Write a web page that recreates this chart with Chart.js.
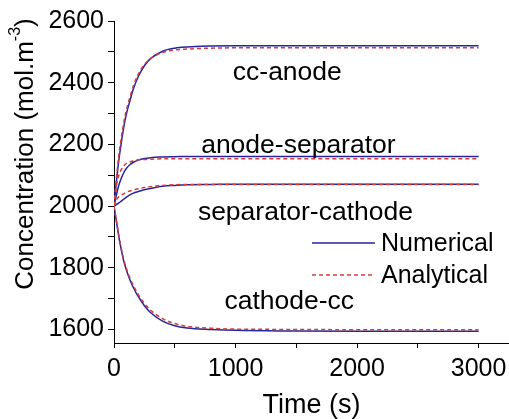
<!DOCTYPE html>
<html>
<head>
<meta charset="utf-8">
<script src="https://cdn.jsdelivr.net/npm/chart.js@4.4.1/dist/chart.umd.min.js"></script>
<style>
  html, body { margin: 0; padding: 0; background: #fff; }
  #myChart { display: block; }
</style>
</head>
<body>
<canvas id="myChart" width="509" height="419"></canvas>
<script>
// time samples (s)
const timeValues = [0, 20, 40, 60, 80, 100, 130, 160, 200, 250, 300, 400, 500, 600, 800, 1000, 1500, 2000, 2500, 3000];

// numerical solution at each interface (mol/m3)
const numCcAnode = [2000, 2080, 2150, 2205, 2255, 2295, 2340, 2380, 2420, 2455, 2478, 2502, 2512, 2516, 2519, 2520, 2520, 2520, 2520, 2520];
const numAnodeSep = [2000, 2036, 2068, 2090, 2108, 2121, 2134, 2142, 2149, 2154, 2157, 2159, 2160, 2161, 2161, 2161, 2161, 2161, 2161, 2161];
const numSepCathode = [2000, 2005, 2010, 2016, 2022, 2028, 2036, 2042, 2047, 2053, 2057, 2064, 2067, 2069, 2070, 2071, 2071, 2071, 2071, 2071];
const numCathodeCc = [2000, 1950, 1900, 1858, 1822, 1795, 1762, 1735, 1706, 1677, 1655, 1627, 1612, 1605, 1600, 1597, 1595, 1594, 1594, 1594];

// analytical solution
const anaCcAnode = [2000, 2090, 2165, 2222, 2270, 2308, 2352, 2390, 2428, 2459, 2478, 2498, 2506, 2509, 2512, 2513, 2513, 2513, 2513, 2513];
const anaAnodeSep = [2000, 2065, 2100, 2118, 2130, 2138, 2143, 2147, 2150, 2151, 2152, 2153, 2153, 2153, 2153, 2153, 2153, 2153, 2153, 2153];
const anaSepCathode = [2000, 2020, 2030, 2036, 2040, 2044, 2049, 2052, 2056, 2060, 2063, 2067, 2069, 2070, 2070, 2070, 2070, 2070, 2070, 2070];
const anaCathodeCc = [2000, 1952, 1905, 1862, 1828, 1800, 1768, 1742, 1713, 1685, 1663, 1635, 1619, 1610, 1604, 1601, 1600, 1599, 1599, 1599];

// curve labels: text, time, concentration
const curveLabels = ["cc-anode", "anode-separator", "separator-cathode", "cathode-cc"];
const curveLabelX = [1426, 1517, 1575, 1442];
const curveLabelY = [2432, 2196, 1977, 1690];

const xTicks = [0, 500, 1000, 1500, 2000, 2500, 3000];
const yTicks = [1600, 1700, 1800, 1900, 2000, 2100, 2200, 2300, 2400, 2500, 2600];

const BLUE = "#25259e";
const RED = "#d23c3c";
const FONT = "'Liberation Sans', Arial, sans-serif";

function pts(values) {
  return timeValues.map((t, i) => ({ x: t, y: values[i] }));
}

function numSet(values) {
  return { data: pts(values), borderColor: BLUE, borderWidth: 1.5, pointRadius: 0, cubicInterpolationMode: "monotone", order: 1 };
}
function anaSet(values) {
  return { data: pts(values), borderColor: RED, borderWidth: 1.5, borderDash: [4, 3], pointRadius: 0, cubicInterpolationMode: "monotone", order: 0 };
}

// labels, legend and y title
const annotations = {
  id: "annotations",
  afterDraw(chart) {
    const c = chart.ctx;
    const xs = chart.scales.x, ys = chart.scales.y;
    c.save();
    c.fillStyle = "#000";
    c.textBaseline = "middle";
    c.font = "26.5px " + FONT;
    c.textAlign = "center";
    curveLabels.forEach((txt, i) => {
      c.fillText(txt, xs.getPixelForValue(curveLabelX[i]), ys.getPixelForValue(curveLabelY[i]));
    });

    // legend
    c.font = "25px " + FONT;
    c.textAlign = "left";
    c.lineWidth = 1.5;
    c.strokeStyle = BLUE;
    c.beginPath(); c.moveTo(312, 243); c.lineTo(375, 243); c.stroke();
    c.strokeStyle = RED;
    c.setLineDash([4, 3]);
    c.beginPath(); c.moveTo(312, 275); c.lineTo(375, 275); c.stroke();
    c.setLineDash([]);
    c.fillText("Numerical", 381, 244);
    c.fillText("Analytical", 381, 276);

    // y axis title with superscript
    c.translate(26, 154);
    c.rotate(-Math.PI / 2);
    const main = "Concentration (mol.m";
    c.font = "26px " + FONT;
    const w1 = c.measureText(main).width;
    const w3 = c.measureText(")").width;
    c.font = "16px " + FONT;
    const w2 = c.measureText("-3").width;
    let x0 = -(w1 + w2 + w3) / 2;
    c.font = "26px " + FONT;
    c.fillText(main, x0, 0);
    c.font = "16px " + FONT;
    c.fillText("-3", x0 + w1, -10);
    c.font = "26px " + FONT;
    c.fillText(")", x0 + w1 + w2, 0);
    c.restore();
  }
};

new Chart(document.getElementById("myChart"), {
  type: "line",
  data: {
    datasets: [
      numSet(numCcAnode), anaSet(anaCcAnode),
      numSet(numAnodeSep), anaSet(anaAnodeSep),
      numSet(numSepCathode), anaSet(anaSepCathode),
      numSet(numCathodeCc), anaSet(anaCathodeCc),
    ],
  },
  options: {
    responsive: false,
    animation: false,
    layout: { padding: { top: 21, left: 0, right: 0, bottom: 0 } },
    plugins: {
      legend: { display: false },
      tooltip: { enabled: false },
    },
    scales: {
      x: {
        type: "linear",
        min: 0,
        max: 3250,
        afterBuildTicks: (s) => { s.ticks = xTicks.map((v) => ({ value: v })); },
        afterFit: (s) => { s.height = 76; s.paddingLeft = 0; s.paddingRight = 0; },
        border: { color: "#000", width: 1 },
        grid: { drawOnChartArea: false, drawTicks: true, tickLength: 5, tickColor: "#000" },
        ticks: {
          color: "#000",
          font: { family: FONT, size: 25 },
          padding: 6,
          maxRotation: 0,
          autoSkip: false,
          callback: (v) => (v % 1000 === 0 ? String(v) : ""),
        },
        title: {
          display: true,
          text: "Time (s)",
          color: "#000",
          font: { family: FONT, size: 27, lineHeight: 1 },
          padding: 0,
        },
      },
      y: {
        type: "linear",
        min: 1556,
        max: 2600,
        afterBuildTicks: (s) => { s.ticks = yTicks.map((v) => ({ value: v })); },
        afterFit: (s) => { s.width = 114; s.paddingTop = 0; s.paddingBottom = 0; },
        border: { color: "#000", width: 1 },
        grid: { drawOnChartArea: false, drawTicks: true, tickLength: 6, tickColor: "#000" },
        ticks: {
          color: "#000",
          font: { family: FONT, size: 25 },
          padding: 4,
          autoSkip: false,
          callback: (v) => (v % 200 === 0 ? String(v) : ""),
        },
      },
    },
  },
  plugins: [annotations],
});
</script>
</body>
</html>
